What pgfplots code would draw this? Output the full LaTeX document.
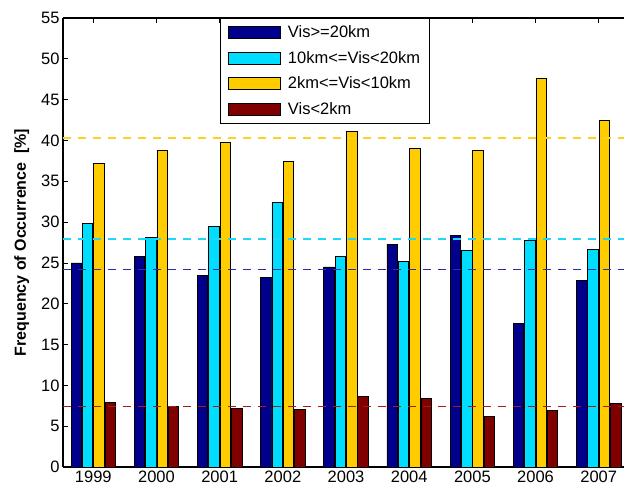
\documentclass[border=0pt]{standalone}
\usepackage{pgfplots}
\pgfplotsset{compat=1.18}
\usepackage{fontspec}
\setmainfont{Liberation Sans}
\usetikzlibrary{calc}
\definecolor{cBlue}{RGB}{0,0,140}
\definecolor{cCyan}{RGB}{0,221,255}
\definecolor{cYellow}{RGB}{255,204,0}
\definecolor{cRed}{RGB}{128,0,0}
\definecolor{dBlue}{RGB}{45,45,175}
\definecolor{dCyan}{RGB}{30,215,250}
\definecolor{dYellow}{RGB}{255,208,30}
\definecolor{dRed}{RGB}{160,30,30}
\pgfplotsset{
  mybar/.style={ybar, bar width=0.166, fill=#1, draw=black, line width=0.8bp,
    legend image code/.code={\draw[fill=#1,draw=black,line width=0.8bp] (0bp,-6bp) rectangle (52bp,6bp); \path (57bp,0bp);}},
  meanline/.style={draw=#1, line width=1.8bp, dash pattern=on 8bp off 7bp, forget plot, mark=none}
}
\begin{document}
\begin{tikzpicture}
\begin{axis}[
  name=ax,
  scale only axis,
  width=561bp, height=449bp,
  xmin=1998.52, xmax=2007.40,
  ymin=0, ymax=55,
  axis x line*=box, axis y line*=left,
  axis line style={line width=1.1bp},
  xtick={1999,2000,...,2007},
  ytick={0,5,...,55},
  xticklabel style={/pgf/number format/1000 sep={}},
  /pgf/number format/assume math mode=true,
  tick label style={font=\fontsize{16.5bp}{19bp}\selectfont},
  tick align=inside,
  major tick length=5bp,
  tick style={line width=0.8bp, black},
  ylabel={Frequency of Occurrence~~[\%]},
  ylabel style={font=\bfseries\fontsize{16bp}{19bp}\selectfont},
  ylabel shift=5bp,
  legend style={at={(0.28,1)}, anchor=north west, draw=black, line width=1.1bp, fill=white,
    font=\fontsize{16.5bp}{19bp}\selectfont, row sep=7bp, inner xsep=7bp, inner ysep=5bp,
    nodes={inner sep=2.5bp}},
  legend cell align=left,
  clip=true,
]
\addplot[mybar=cBlue, bar shift=-0.27] coordinates {
 (1999,25.0) (2000,25.8) (2001,23.5) (2002,23.2) (2003,24.5) (2004,27.3) (2005,28.4) (2006,17.6) (2007,22.9)};
\addplot[mybar=cCyan, bar shift=-0.09] coordinates {
 (1999,29.8) (2000,28.1) (2001,29.5) (2002,32.4) (2003,25.8) (2004,25.2) (2005,26.5) (2006,27.8) (2007,26.7)};
\addplot[mybar=cYellow, bar shift=0.09] coordinates {
 (1999,37.2) (2000,38.8) (2001,39.8) (2002,37.4) (2003,41.1) (2004,39.0) (2005,38.8) (2006,47.6) (2007,42.4)};
\addplot[mybar=cRed, bar shift=0.27] coordinates {
 (1999,7.9) (2000,7.4) (2001,7.2) (2002,7.0) (2003,8.6) (2004,8.4) (2005,6.2) (2006,6.9) (2007,7.8)};
\legend{Vis>=20km, 10km<=Vis<20km, 2km<=Vis<10km, Vis<2km}
\addplot[meanline=dYellow] coordinates {(1998.52,40.3) (2007.40,40.3)};
\addplot[meanline=dCyan] coordinates {(1998.52,27.9) (2007.40,27.9)};
\addplot[meanline=dBlue] coordinates {(1998.52,24.2) (2007.40,24.2)};
\addplot[meanline=dRed] coordinates {(1998.52,7.4) (2007.40,7.4)};
\end{axis}
\pgfresetboundingbox
\path[use as bounding box] ($(ax.south west)+(-63bp,-23bp)$) rectangle ($(ax.north east)+(0bp,18bp)$);
\end{tikzpicture}
\end{document}
